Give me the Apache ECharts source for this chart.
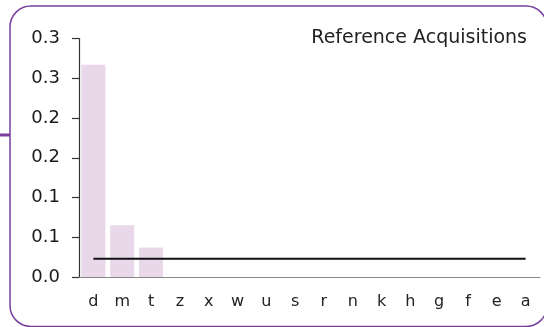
<!DOCTYPE html>
<html>
<head>
<meta charset="utf-8">
<script src="https://cdn.jsdelivr.net/npm/echarts@6/dist/echarts.min.js"></script>
<style>
  html, body { margin: 0; padding: 0; background: #ffffff; }
  #chart { width: 544px; height: 327px; }
</style>
</head>
<body>
<div id="chart"></div>
<script>
// Acquisition counts per category, with a flat reference level
const categories = ['d', 'm', 't', 'z', 'x', 'w', 'u', 's', 'r', 'n', 'k', 'h', 'g', 'f', 'e', 'a'];
const acquisitions = [0.267, 0.065, 0.037, 0, 0, 0, 0, 0, 0, 0, 0, 0, 0, 0, 0, 0];
const referenceLevel = [0.023, 0.023, 0.023, 0.023, 0.023, 0.023, 0.023, 0.023, 0.023, 0.023, 0.023, 0.023, 0.023, 0.023, 0.023, 0.023];
const chartTitle = 'Reference Acquisitions';

const FONT = '"DejaVu Sans", sans-serif';
const chart = echarts.init(document.getElementById('chart'), null, { renderer: 'canvas' });

chart.setOption({
  animation: false,
  backgroundColor: '#ffffff',
  title: {
    text: chartTitle,
    right: 12,
    top: 24,
    textStyle: { fontFamily: FONT, fontSize: 19, fontWeight: 'normal', color: '#222222' }
  },
  graphic: [
    {
      type: 'rect',
      shape: { x: 10, y: 6, width: 537, height: 320.5, r: 21 },
      style: { fill: 'none', stroke: '#7a3f9d', lineWidth: 1.5 },
      z: -1
    },
    {
      type: 'line',
      shape: { x1: 0, y1: 135, x2: 10, y2: 135 },
      style: { stroke: '#7a3f9d', lineWidth: 3 }
    }
  ],
  grid: { left: 79, right: 4, top: 38.5, bottom: 50, containLabel: false },
  xAxis: {
    type: 'category',
    data: categories,
    boundaryGap: true,
    axisLine: { lineStyle: { color: '#888888', width: 1 } },
    axisTick: { show: false },
    axisLabel: { margin: 17, fontFamily: FONT, fontSize: 16, color: '#222222', interval: 0 },
    splitLine: { show: false }
  },
  yAxis: {
    type: 'value',
    min: 0,
    max: 0.3,
    interval: 0.05,
    axisLine: { show: true, lineStyle: { color: '#333333', width: 1.2 } },
    axisTick: { show: true, length: 7, lineStyle: { color: '#333333', width: 1.2 } },
    axisLabel: {
      margin: 19,
      fontFamily: FONT,
      fontSize: 18,
      color: '#1a1a1a',
      formatter: v => (Math.round(v * 10) / 10).toFixed(1)
    },
    splitLine: { show: false }
  },
  series: [
    {
      type: 'bar',
      data: acquisitions,
      barWidth: 24,
      itemStyle: { color: '#e8d8ea' }
    },
    {
      type: 'line',
      data: referenceLevel,
      symbol: 'none',
      lineStyle: { color: '#111111', width: 2 },
      z: 3
    }
  ]
});
</script>
</body>
</html>
